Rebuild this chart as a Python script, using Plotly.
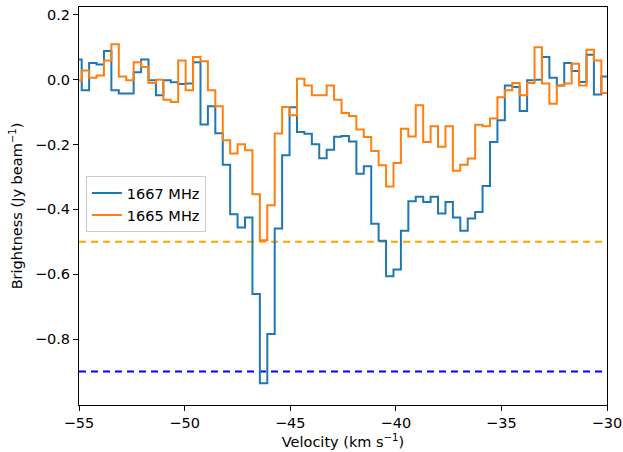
import plotly.graph_objects as go

# Channel velocities (km/s), bin centres
velocity = [-55.048, -54.697, -54.345, -53.994, -53.642, -53.291, -52.939, -52.588,
            -52.236, -51.885, -51.533, -51.182, -50.830, -50.479, -50.127, -49.776,
            -49.424, -49.073, -48.721, -48.370, -48.018, -47.667, -47.315, -46.964,
            -46.612, -46.261, -45.909, -45.558, -45.206, -44.855, -44.503, -44.152,
            -43.800, -43.449, -43.097, -42.746, -42.394, -42.043, -41.691, -41.340,
            -40.988, -40.637, -40.285, -39.934, -39.582, -39.231, -38.879, -38.528,
            -38.176, -37.825, -37.473, -37.122, -36.770, -36.419, -36.067, -35.716,
            -35.364, -35.013, -34.661, -34.310, -33.958, -33.607, -33.255, -32.904,
            -32.552, -32.201, -31.849, -31.498, -31.146, -30.795, -30.443, -30.092]

flux_1667 = [0.062, -0.033, 0.051, 0.047, 0.088, -0.033, -0.043, -0.043,
             0.023, 0.062, -0.002, -0.048, -0.002, -0.008, -0.013, -0.012,
             0.054, -0.138, -0.082, -0.165, -0.262, -0.415, -0.456, -0.425,
             -0.661, -0.936, -0.784, -0.459, -0.233, -0.085, -0.161, -0.167,
             -0.199, -0.242, -0.216, -0.176, -0.174, -0.191, -0.290, -0.267,
             -0.444, -0.497, -0.606, -0.585, -0.466, -0.375, -0.361, -0.377,
             -0.361, -0.413, -0.377, -0.425, -0.466, -0.428, -0.408, -0.328,
             -0.192, -0.125, -0.018, -0.023, -0.097, -0.002, 0.000, 0.070,
             0.006, -0.018, 0.051, 0.027, -0.007, 0.077, -0.046, 0.010]

flux_1665 = [-0.002, 0.028, 0.006, 0.013, 0.059, 0.109, 0.010, -0.002,
             0.054, 0.039, -0.010, 0.000, -0.062, -0.069, 0.059, -0.033,
             0.070, 0.057, -0.033, -0.082, -0.187, -0.228, -0.199, -0.218,
             -0.353, -0.495, -0.387, -0.166, -0.084, -0.110, 0.003, -0.018,
             -0.048, -0.048, -0.018, -0.062, -0.103, -0.112, -0.154, -0.177,
             -0.220, -0.264, -0.329, -0.257, -0.151, -0.175, -0.079, -0.192,
             -0.144, -0.207, -0.144, -0.281, -0.262, -0.243, -0.139, -0.144,
             -0.120, -0.054, -0.033, -0.010, -0.048, -0.010, 0.100, -0.012,
             -0.074, -0.018, -0.012, 0.049, -0.018, 0.092, 0.059, -0.041]

series_names = ["1667 MHz", "1665 MHz"]
series_colors = ["#1f77b4", "#ff7f0e"]

threshold_levels = [-0.5, -0.9]
threshold_colors = ["#ffa500", "#0000ff"]

x_range = [-55, -30]
y_range = [-1.003, 0.224]
x_ticks = [-55, -50, -45, -40, -35, -30]
y_ticks = [-0.8, -0.6, -0.4, -0.2, 0.0, 0.2]

FONT = "DejaVu Sans"
FS = 14.5

fig = go.Figure()

# extend last step to the right axis edge (step continues past the frame)
x_ext = velocity + [x_range[1] + 0.3]
for name, col, vals in zip(series_names, series_colors, [flux_1667, flux_1665]):
    fig.add_trace(go.Scatter(
        x=x_ext, y=vals + [vals[-1]], mode="lines", name=name,
        line=dict(color=col, width=2, shape="hvh"),
    ))

for lvl, col in zip(threshold_levels, threshold_colors):
    fig.add_shape(type="line", xref="paper", x0=0, x1=1, yref="y", y0=lvl, y1=lvl,
                  line=dict(color=col, width=2, dash="7px,5px"), layer="below")

axis_common = dict(
    showline=True, linecolor="black", linewidth=1, mirror=True,
    ticks="outside", ticklen=5, tickwidth=1, tickcolor="black",
    showgrid=False, zeroline=False, automargin=False,
    tickfont=dict(family=FONT, size=FS, color="black"),
)

fig.update_layout(
    width=623, height=452,
    margin=dict(l=79, r=16, t=7, b=47),
    paper_bgcolor="white", plot_bgcolor="white",
    font=dict(family=FONT, size=FS, color="black"),
    xaxis=dict(range=x_range, tickvals=x_ticks,
               title=dict(text="Velocity (km s<sup>−1</sup>)", standoff=6,
                          font=dict(family=FONT, size=FS)),
               **axis_common),
    yaxis=dict(range=y_range, tickvals=y_ticks, tickformat=".1f",
               title=dict(text="Brightness (Jy beam<sup>−1</sup>)", standoff=8,
                          font=dict(family=FONT, size=FS)),
               **axis_common),
    legend=dict(x=0.013, y=0.575, xanchor="left", yanchor="top",
                bgcolor="rgba(255,255,255,0.8)", bordercolor="#cccccc", borderwidth=1,
                font=dict(family=FONT, size=FS), tracegroupgap=0),
    showlegend=True,
)

fig.write_html("out.html")
